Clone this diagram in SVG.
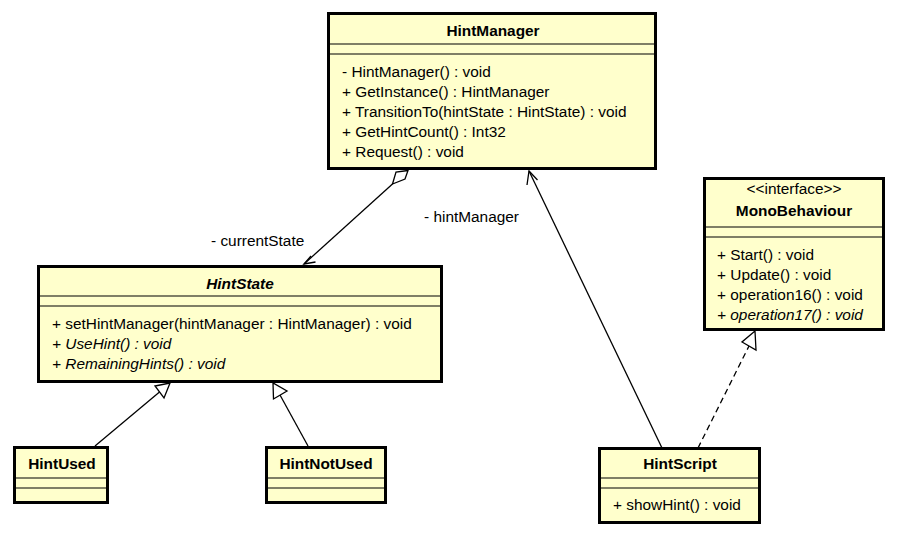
<svg xmlns="http://www.w3.org/2000/svg" width="898" height="536" viewBox="0 0 898 536">
<style>
.box{fill:#ffffcc;stroke:#000;stroke-width:3}
.sep{stroke:#000;stroke-width:1.2}
text{font-family:"Liberation Sans",Arial,sans-serif;font-size:15.4px;fill:#000}
.t{font-weight:bold;text-anchor:middle}
.i{font-style:italic}
.c{text-anchor:middle}
.ln{fill:none;stroke:#000;stroke-width:1.3}
.tri{fill:#fff;stroke:#000;stroke-width:1.3}
</style>
<rect width="898" height="536" fill="#fff"/>
<g id="connectors">
  <polygon class="tri" points="408,170.5 396,172 392.5,184 405,179"/>
  <line class="ln" x1="392.5" y1="184" x2="304" y2="264"/>
  <polyline class="ln" points="311,256 304,264 315.5,262"/>
  <line class="ln" x1="662" y1="448" x2="529" y2="171"/>
  <polyline class="ln" points="527,185 529,171 537.5,180"/>
  <line class="ln" x1="95" y1="446" x2="159.5" y2="392"/>
  <polygon class="tri" points="170,383 155,386 164,398"/>
  <line class="ln" x1="308" y1="446" x2="280" y2="395"/>
  <polygon class="tri" points="273,383 273.5,399 287,391"/>
  <line class="ln" x1="698" y1="448" x2="749" y2="346" stroke-dasharray="6,4"/>
  <polygon class="tri" points="755,331 742,342 756,350"/>
  <text x="211" y="246">- currentState</text>
  <text x="424" y="222">- hintManager</text>
</g>
<g id="HintManager">
  <rect class="box" x="328.5" y="13.5" width="327" height="155"/>
  <line class="sep" x1="330" y1="44" x2="654" y2="44"/>
  <line class="sep" x1="330" y1="54" x2="654" y2="54"/>
  <text class="t" x="493" y="36">HintManager</text>
  <text x="342" y="77">- HintManager() : void</text>
  <text x="342" y="97">+ GetInstance() : HintManager</text>
  <text x="342" y="117">+ TransitionTo(hintState : HintState) : void</text>
  <text x="342" y="137">+ GetHintCount() : Int32</text>
  <text x="342" y="157">+ Request() : void</text>
</g>
<g id="HintState">
  <rect class="box" x="38.5" y="266.5" width="403" height="115"/>
  <line class="sep" x1="40" y1="296" x2="440" y2="296"/>
  <line class="sep" x1="40" y1="306" x2="440" y2="306"/>
  <text class="t i" x="240" y="289">HintState</text>
  <text x="52" y="329">+ setHintManager(hintManager : HintManager) : void</text>
  <text class="i" x="52" y="349">+ UseHint() : void</text>
  <text class="i" x="52" y="369">+ RemainingHints() : void</text>
</g>
<g id="MonoBehaviour">
  <rect class="box" x="704.5" y="178.5" width="179" height="151"/>
  <line class="sep" x1="706" y1="227" x2="882" y2="227"/>
  <line class="sep" x1="706" y1="237" x2="882" y2="237"/>
  <text class="c" x="794" y="194">&lt;&lt;interface&gt;&gt;</text>
  <text class="t" x="794" y="216">MonoBehaviour</text>
  <text x="717" y="260">+ Start() : void</text>
  <text x="717" y="280">+ Update() : void</text>
  <text x="717" y="300">+ operation16() : void</text>
  <text class="i" x="717" y="320">+ operation17() : void</text>
</g>
<g id="HintUsed">
  <rect class="box" x="14.5" y="447.5" width="93" height="55"/>
  <line class="sep" x1="16" y1="478" x2="106" y2="478"/>
  <line class="sep" x1="16" y1="488" x2="106" y2="488"/>
  <text class="t" x="62" y="469">HintUsed</text>
</g>
<g id="HintNotUsed">
  <rect class="box" x="266.5" y="447.5" width="119" height="55"/>
  <line class="sep" x1="268" y1="478" x2="384" y2="478"/>
  <line class="sep" x1="268" y1="488" x2="384" y2="488"/>
  <text class="t" x="326" y="469">HintNotUsed</text>
</g>
<g id="HintScript">
  <rect class="box" x="599.5" y="448.5" width="160" height="74"/>
  <line class="sep" x1="601" y1="478" x2="758" y2="478"/>
  <line class="sep" x1="601" y1="488" x2="758" y2="488"/>
  <text class="t" x="680" y="469">HintScript</text>
  <text x="613" y="510">+ showHint() : void</text>
</g>
</svg>
